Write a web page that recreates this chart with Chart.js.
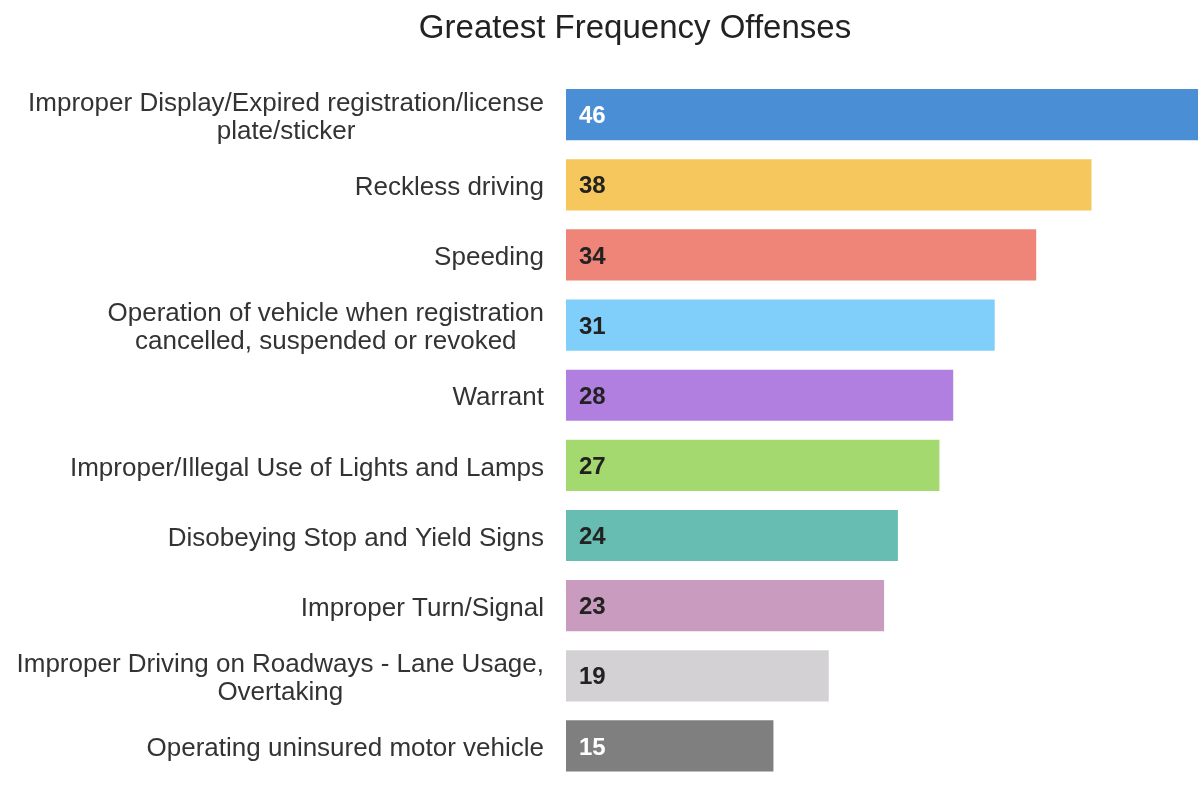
<!DOCTYPE html>
<html>
<head>
<meta charset="utf-8">
<script src="https://cdn.jsdelivr.net/npm/chart.js@4"></script>
<style>
  html, body { margin: 0; padding: 0; background: #fff; }
  #wrap { width: 1198px; height: 801px; }
</style>
</head>
<body>
<div id="wrap"><canvas id="chart"></canvas></div>
<script>
const TITLE = 'Greatest Frequency Offenses';

const OFFENSES = [
  ['Improper Display/Expired registration/license', 'plate/sticker'],
  'Reckless driving',
  'Speeding',
  ['Operation of vehicle when registration', 'cancelled, suspended or revoked'],
  'Warrant',
  'Improper/Illegal Use of Lights and Lamps',
  'Disobeying Stop and Yield Signs',
  'Improper Turn/Signal',
  ['Improper Driving on Roadways - Lane Usage,', 'Overtaking'],
  'Operating uninsured motor vehicle',
];

const COUNTS = [46, 38, 34, 31, 28, 27, 24, 23, 19, 15];

const BAR_COLORS = ['#4a8fd6', '#f6c75c', '#ef8478', '#80cffa', '#b07fdf', '#a3d96f', '#68bdb3', '#c99bbe', '#d3d1d3', '#7f7f7f'];
const VALUE_COLORS = ['#ffffff', '#222', '#222', '#222', '#222', '#222', '#222', '#222', '#222', '#ffffff'];

const FONT = 'Arial, "Liberation Sans", sans-serif';

// draws category labels: block right-aligned to the bars, lines centered within block
const labelPlugin = {
  id: 'labels',
  afterDraw(chart) {
    const { ctx } = chart;
    const yScale = chart.scales.y;
    const right = chart.chartArea.left - 22;
    ctx.save();
    ctx.font = `26px ${FONT}`;
    ctx.fillStyle = '#333';
    ctx.textBaseline = 'middle';
    ctx.textAlign = 'center';
    OFFENSES.forEach((lab, i) => {
      const lines = Array.isArray(lab) ? lab : [lab];
      const w = Math.max(...lines.map(l => ctx.measureText(l).width));
      const cx = right - w / 2;
      const cy = yScale.getPixelForValue(i) + 3;
      const lh = 28;
      lines.forEach((l, j) => {
        ctx.fillText(l, cx, cy + (j - (lines.length - 1) / 2) * lh);
      });
    });
    ctx.restore();
  }
};

// value inside each bar, near its start
const valuePlugin = {
  id: 'values',
  afterDatasetsDraw(chart) {
    const { ctx } = chart;
    const meta = chart.getDatasetMeta(0);
    ctx.save();
    ctx.font = `bold 24px ${FONT}`;
    ctx.textBaseline = 'middle';
    ctx.textAlign = 'left';
    meta.data.forEach((bar, i) => {
      ctx.fillStyle = VALUE_COLORS[i];
      ctx.fillText(String(COUNTS[i]), bar.base + 13, bar.y + 2);
    });
    ctx.restore();
  }
};

new Chart(document.getElementById('chart'), {
  type: 'bar',
  data: {
    labels: OFFENSES,
    datasets: [{
      data: COUNTS,
      backgroundColor: BAR_COLORS,
      borderWidth: 0,
      categoryPercentage: 1,
      barPercentage: 0.73,
    }]
  },
  options: {
    indexAxis: 'y',
    responsive: true,
    maintainAspectRatio: false,
    animation: false,
    layout: { padding: { left: 72, right: 0, top: 0, bottom: 20 } },
    plugins: {
      legend: { display: false },
      tooltip: { enabled: false },
      title: {
        display: true,
        text: TITLE,
        color: '#222',
        font: { family: FONT, size: 33, weight: 'normal' },
        padding: { top: 9, bottom: 31 },
      },
    },
    scales: {
      x: { display: false, min: 0, max: 45.7 },
      y: {
        display: true,
        ticks: { display: false },
        grid: { display: false },
        border: { display: false },
        afterFit(scale) { scale.width = 494; },
      }
    }
  },
  plugins: [labelPlugin, valuePlugin],
});
</script>
</body>
</html>
